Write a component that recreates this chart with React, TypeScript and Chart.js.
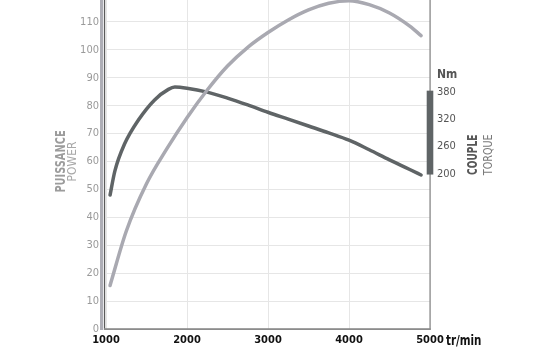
import { useEffect, useRef } from "react";
import { Chart, registerables } from "chart.js";

Chart.register(...registerables);

const FONT = "'Liberation Sans Narrow', 'DejaVu Sans Condensed', 'Arial Narrow', sans-serif";

// Scales
const rpmRange = [1000, 5000];
const rpmStep = 1000;
const powerRange = [0, 120];
const powerStep = 10;
const torqueRange = [-138.6, 593.4];
const torqueTicks = [200, 260, 320, 380];

// Series: power (light curve, left axis)
const powerRpm = [1050, 1250, 1500, 1750, 2000, 2250, 2500, 2750, 3000, 3250, 3500, 3750, 4000, 4250, 4500, 4750, 4890];
const powerKw = [15.6, 35.0, 52.0, 64.5, 75.7, 85.6, 94.2, 100.9, 106.2, 110.7, 114.3, 116.7, 117.6, 116.2, 113.2, 108.5, 105.1];

// Series: torque (dark curve, right axis)
const torqueRpm = [1050, 1110, 1230, 1400, 1600, 1770, 1850, 2000, 2250, 2500, 2750, 3000, 3250, 3500, 3750, 4000, 4250, 4500, 4750, 4890];
const torqueNm = [154, 207, 266, 318, 362, 385, 390, 387.5, 379, 366, 351, 335, 320, 305, 290, 274, 253, 231, 210, 198];

const labels = {
  power: ["PUISSANCE", "POWER"],
  torque: ["COUPLE", "TORQUE"],
  torqueUnit: "Nm",
  rpmUnit: "tr/min",
};

function vtext(ctx: CanvasRenderingContext2D, text: string, x: number, y: number, font: string, color: string, sx: number) {
  ctx.save();
  ctx.translate(x, y);
  ctx.rotate(-Math.PI / 2);
  ctx.scale(sx, 1);
  ctx.font = font;
  ctx.fillStyle = color;
  ctx.textAlign = "center";
  ctx.textBaseline = "alphabetic";
  ctx.fillText(text, 0, 0);
  ctx.restore();
}

const decor = {
  id: "decor",
  beforeDatasetsDraw(chart: any) {
    const { ctx, chartArea: a } = chart;
    ctx.save();
    ctx.fillStyle = "#aeaeb6";
    ctx.fillRect(a.left - 6, 0, 3.3, a.bottom + 1);
    ctx.fillStyle = "#5a5a5a";
    ctx.fillRect(a.left - 2, 0, 1.2, a.bottom + 1);
    ctx.fillStyle = "#8c8c8c";
    ctx.fillRect(a.left - 2, a.bottom - 0.8, a.right - a.left + 2.6, 1.8);
    ctx.fillRect(a.right - 0.6, 0, 1.3, a.bottom + 1);
    ctx.restore();
  },
  afterDatasetsDraw(chart: any) {
    const { ctx, chartArea: a, scales } = chart;
    const y = scales.y;
    const y2 = scales.y2;
    ctx.save();
    const t = y2.getPixelForValue(torqueTicks[torqueTicks.length - 1]);
    const b = y2.getPixelForValue(torqueTicks[0]);
    ctx.fillStyle = "#5f6466";
    ctx.fillRect(a.right - 3.3, t - 1, 6.6, b - t + 1.5);

    const pc = y.getPixelForValue(60);
    vtext(ctx, labels.power[0], a.left - 41, pc, `bold 14px ${FONT}`, "#9c9c9c", 0.78);
    vtext(ctx, labels.power[1], a.left - 30, pc, `13px ${FONT}`, "#a8a8a8", 0.92);

    const tc = y.getPixelForValue(62.4);
    vtext(ctx, labels.torque[0], a.right + 47, tc, `bold 14px ${FONT}`, "#585858", 0.72);
    vtext(ctx, labels.torque[1], a.right + 62, tc, `13px ${FONT}`, "#7a7a7a", 0.82);

    ctx.font = `bold 12px ${FONT}`;
    ctx.fillStyle = "#555";
    ctx.textAlign = "left";
    ctx.textBaseline = "middle";
    ctx.fillText(labels.torqueUnit, a.right + 7, t - 17);

    ctx.save();
    ctx.translate(a.right + 16, a.bottom + 16);
    ctx.scale(0.82, 1);
    ctx.font = `bold 14px ${FONT}`;
    ctx.fillStyle = "#111";
    ctx.textBaseline = "alphabetic";
    ctx.fillText(labels.rpmUnit, 0, 0);
    ctx.restore();
    ctx.restore();
  },
};

export default function App() {
  const ref = useRef<HTMLCanvasElement>(null);
  useEffect(() => {
    if (!ref.current) return;
    const chart = new Chart(ref.current, {
      type: "line",
      data: {
        datasets: [
          {
            label: "Power",
            data: powerRpm.map((x, i) => ({ x, y: powerKw[i] })),
            borderColor: "#a9a9b1",
            borderWidth: 3.5,
            pointRadius: 0,
            cubicInterpolationMode: "monotone",
            borderCapStyle: "round",
            borderJoinStyle: "round",
            yAxisID: "y",
          },
          {
            label: "Torque",
            data: torqueRpm.map((x, i) => ({ x, y: torqueNm[i] })),
            borderColor: "#5f6466",
            borderWidth: 3.5,
            pointRadius: 0,
            cubicInterpolationMode: "monotone",
            borderCapStyle: "round",
            borderJoinStyle: "round",
            yAxisID: "y2",
          },
        ],
      },
      options: {
        animation: false,
        responsive: false,
        devicePixelRatio: 1,
        layout: { padding: { top: 16, left: 0, right: 0, bottom: 0 } },
        plugins: { legend: { display: false }, tooltip: { enabled: false } },
        scales: {
          x: {
            type: "linear",
            min: rpmRange[0],
            max: rpmRange[1],
            ticks: {
              stepSize: rpmStep,
              color: "#111",
              font: { family: FONT, size: 11, weight: "bold" },
              padding: 5,
              maxRotation: 0,
              callback: (v: any) => String(v),
            },
            grid: { color: "#e6e6e6", drawTicks: false },
            border: { display: false },
            afterFit: (s: any) => {
              s.height = 30;
            },
          },
          y: {
            position: "left",
            min: powerRange[0],
            max: powerRange[1],
            ticks: {
              stepSize: powerStep,
              color: "#9a9a9a",
              font: { family: FONT, size: 11 },
              padding: 7,
              callback: (v: any) => (v >= powerRange[1] ? "" : String(v)),
            },
            grid: { color: "#e6e6e6", drawTicks: false },
            border: { display: false },
            afterFit: (s: any) => {
              s.width = 106;
            },
          },
          y2: {
            position: "right",
            min: torqueRange[0],
            max: torqueRange[1],
            afterBuildTicks: (s: any) => {
              s.ticks = torqueTicks.map((value) => ({ value }));
            },
            ticks: {
              color: "#555",
              font: { family: FONT, size: 11 },
              padding: 7,
            },
            grid: { display: false, drawTicks: false },
            border: { display: false },
            afterFit: (s: any) => {
              s.width = 115;
            },
          },
        },
      },
      plugins: [decor],
    } as any);
    return () => chart.destroy();
  }, []);

  return (
    <div style={{ position: "fixed", left: 0, top: 0, width: 545, height: 347, overflow: "hidden", background: "#fff" }}>
      <canvas ref={ref} width={545} height={381} style={{ position: "absolute", left: 0, top: -22, width: 545, height: 381 }} />
    </div>
  );
}
